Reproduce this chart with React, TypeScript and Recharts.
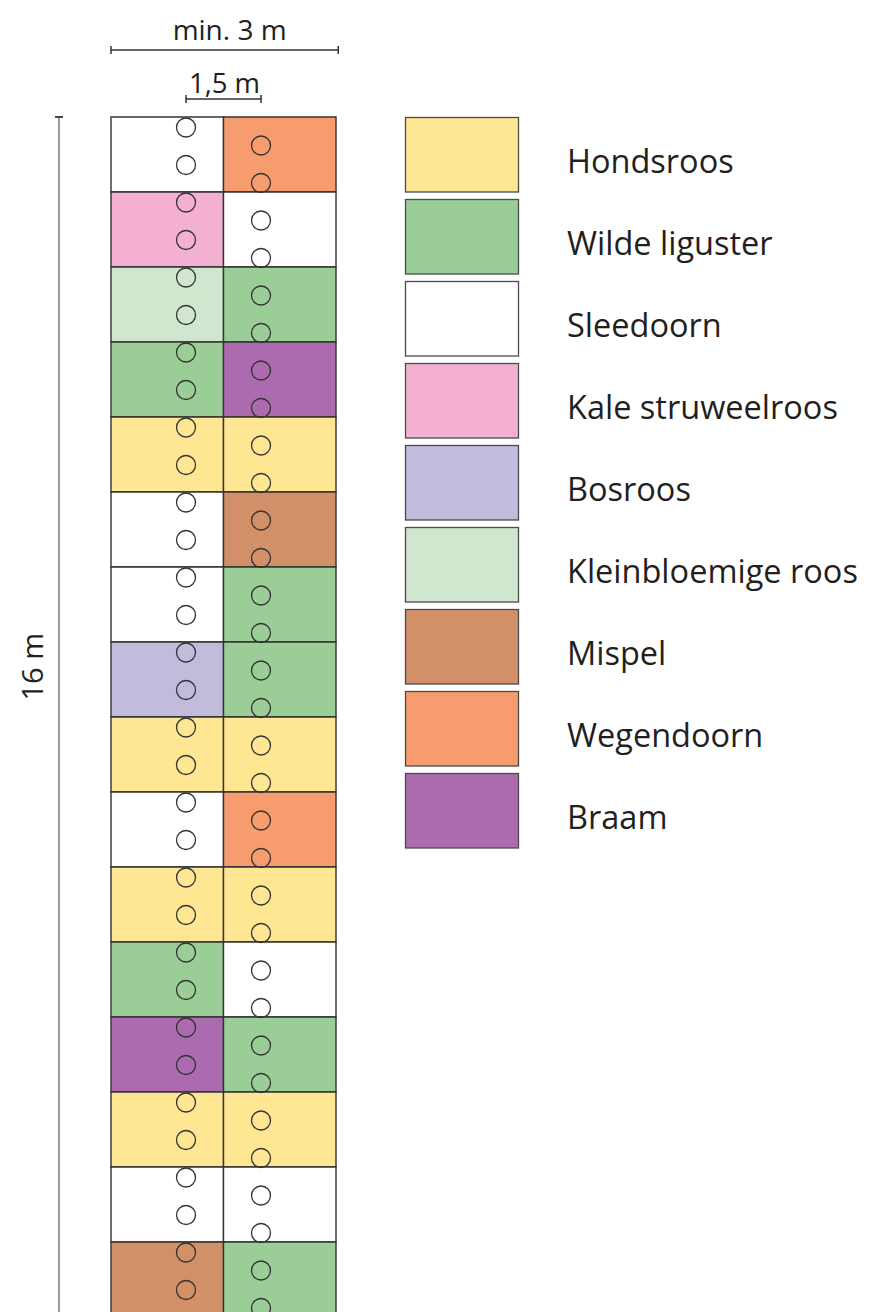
import React from 'react';
import {
  ComposedChart,
  XAxis,
  YAxis,
  Scatter,
  ReferenceArea,
  ReferenceLine,
  ReferenceDot,
  Legend,
} from 'recharts';

// ---------- data ----------
const rowStarts = [0, 1, 2, 3, 4, 5, 6, 7, 8, 9, 10, 11, 12, 13, 14, 15]; // metres along the 16 m hedge

const leftColumn = [
  'Sleedoorn', 'Kale struweelroos', 'Kleinbloemige roos', 'Wilde liguster',
  'Hondsroos', 'Sleedoorn', 'Sleedoorn', 'Bosroos',
  'Hondsroos', 'Sleedoorn', 'Hondsroos', 'Wilde liguster',
  'Braam', 'Hondsroos', 'Sleedoorn', 'Mispel',
];
const rightColumn = [
  'Wegendoorn', 'Sleedoorn', 'Wilde liguster', 'Braam',
  'Hondsroos', 'Mispel', 'Wilde liguster', 'Wilde liguster',
  'Hondsroos', 'Wegendoorn', 'Hondsroos', 'Sleedoorn',
  'Wilde liguster', 'Hondsroos', 'Sleedoorn', 'Wilde liguster',
];

const legendSpecies = [
  'Hondsroos', 'Wilde liguster', 'Sleedoorn', 'Kale struweelroos', 'Bosroos',
  'Kleinbloemige roos', 'Mispel', 'Wegendoorn', 'Braam',
];
const speciesColors: Record<string, string> = {
  Hondsroos: '#FEE692',
  'Wilde liguster': '#9BCD96',
  Sleedoorn: '#FFFFFF',
  'Kale struweelroos': '#F4B0D1',
  Bosroos: '#C2BBDB',
  'Kleinbloemige roos': '#D0E6CE',
  Mispel: '#D29068',
  Wegendoorn: '#F79C6E',
  Braam: '#AB6BAE',
};

// plant positions (metres): left row at 1 m, right row at 2 m from the edge
const leftRowX = 1;
const rightRowX = 2;
const leftPlantY = [
  0.14, 0.64, 1.14, 1.64, 2.14, 2.64, 3.14, 3.64, 4.14, 4.64, 5.14, 5.64, 6.14, 6.64, 7.14, 7.64,
  8.14, 8.64, 9.14, 9.64, 10.14, 10.64, 11.14, 11.64, 12.14, 12.64, 13.14, 13.64, 14.14, 14.64, 15.14, 15.64,
];
const rightPlantY = [
  0.38, 0.88, 1.38, 1.88, 2.38, 2.88, 3.38, 3.88, 4.38, 4.88, 5.38, 5.88, 6.38, 6.88, 7.38, 7.88,
  8.38, 8.88, 9.38, 9.88, 10.38, 10.88, 11.38, 11.88, 12.38, 12.88, 13.38, 13.88, 14.38, 14.88, 15.38, 15.88,
];

const columnWidth = 1.5; // m
const hedgeWidth = 3; // m ("min. 3 m")
const hedgeLength = 16; // m
const dimensionLabels = ['min. 3 m', '1,5 m', '16 m'];

// ---------- layout ----------
const W = 871;
const H = 1312;
const PX_PER_M = 75;
const X0 = -111 / PX_PER_M;
const Y0 = -117 / PX_PER_M;
const xDomain: [number, number] = [X0, X0 + W / PX_PER_M];
const yDomain: [number, number] = [Y0, Y0 + H / PX_PER_M];

const FONT = '"Open Sans", "Noto Sans", sans-serif';
const TEXT = '#231F20';
const EDGE = '#333333';

const leftPlants = leftPlantY.map((y) => ({ x: leftRowX, y }));
const rightPlants = rightPlantY.map((y) => ({ x: rightRowX, y }));

const PlantShape = (props: any) => {
  if (props.cx == null || props.cy == null) return null;
  return <circle cx={props.cx} cy={props.cy} r={9.5} fill="none" stroke={EDGE} strokeWidth={1.3} />;
};

const TopLabel = (text: string, offset: number, size: number, dx: number) => (props: any) => {
  const vb = props.viewBox || {};
  const cx = (vb.x ?? 0) + (vb.width ?? 0) / 2;
  return (
    <text x={cx + dx} y={(vb.y ?? 0) - offset} textAnchor="middle" fontFamily={FONT} fontSize={size} fill={TEXT}>
      {text}
    </text>
  );
};

const SideLabel = (text: string, size: number) => (props: any) => {
  const vb = props.viewBox || {};
  const x = (vb.x ?? 0) + (vb.width ?? 0) / 2;
  const y = (vb.y ?? 0) + (vb.height ?? 0) / 2;
  return (
    <text
      x={x}
      y={y}
      textAnchor="middle"
      dominantBaseline="central"
      transform={`rotate(-90 ${x} ${y})`}
      fontFamily={FONT}
      fontSize={size}
      fill={TEXT}
    >
      {text}
    </text>
  );
};

const LegendContent = () => (
  <svg width={470} height={740} style={{ display: 'block', overflow: 'visible' }}>
    {legendSpecies.map((s, i) => (
      <g key={s}>
        <rect
          x={0.5}
          y={i * 82 + 0.5}
          width={113}
          height={74.5}
          fill={speciesColors[s]}
          stroke="#4a4a4a"
          strokeWidth={1.3}
        />
        <text x={162} y={i * 82 + 55.5} fontFamily={FONT} fontSize={32.5} fill={TEXT}>
          {s}
        </text>
      </g>
    ))}
  </svg>
);

export default function App() {
  const dimY1 = -67 / PX_PER_M; // line under "min. 3 m"
  const dimY2 = -18 / PX_PER_M; // line under "1,5 m"
  const tick = 4 / PX_PER_M;
  const vertX = -52 / PX_PER_M;

  return (
    <div style={{ position: 'absolute', left: 0, top: 0, width: W, height: H, background: '#fff' }}>
      <ComposedChart width={W} height={H} margin={{ top: 0, right: 0, bottom: 0, left: 0 }}>
        <XAxis type="number" dataKey="x" domain={xDomain} hide allowDataOverflow />
        <YAxis type="number" dataKey="y" domain={yDomain} reversed hide allowDataOverflow />

        {rowStarts.map((r, i) => (
          <ReferenceArea
            key={`l${i}`}
            x1={0}
            x2={columnWidth}
            y1={r}
            y2={r + 1}
            fill={speciesColors[leftColumn[i]]}
            fillOpacity={1}
            stroke={EDGE}
            strokeWidth={1.4}
            ifOverflow="visible"
          />
        ))}
        {rowStarts.map((r, i) => (
          <ReferenceArea
            key={`r${i}`}
            x1={columnWidth}
            x2={hedgeWidth}
            y1={r}
            y2={r + 1}
            fill={speciesColors[rightColumn[i]]}
            fillOpacity={1}
            stroke={EDGE}
            strokeWidth={1.4}
            ifOverflow="visible"
          />
        ))}

        {/* min. 3 m dimension */}
        <ReferenceLine
          segment={[{ x: 0, y: dimY1 }, { x: hedgeWidth + 0.03, y: dimY1 }]}
          stroke={EDGE}
          strokeWidth={1.5}
          ifOverflow="visible"
          label={{ content: TopLabel(dimensionLabels[0], 10, 28, 5) }}
        />
        <ReferenceLine segment={[{ x: 0, y: dimY1 - tick }, { x: 0, y: dimY1 + tick }]} stroke={EDGE} strokeWidth={1.5} ifOverflow="visible" />
        <ReferenceLine segment={[{ x: hedgeWidth + 0.03, y: dimY1 - tick }, { x: hedgeWidth + 0.03, y: dimY1 + tick }]} stroke={EDGE} strokeWidth={1.5} ifOverflow="visible" />

        {/* 1,5 m dimension */}
        <ReferenceLine
          segment={[{ x: leftRowX, y: dimY2 }, { x: rightRowX, y: dimY2 }]}
          stroke={EDGE}
          strokeWidth={1.5}
          ifOverflow="visible"
          label={{ content: TopLabel(dimensionLabels[1], 6, 27.5, 1) }}
        />
        <ReferenceLine segment={[{ x: leftRowX, y: dimY2 - tick }, { x: leftRowX, y: dimY2 + tick }]} stroke={EDGE} strokeWidth={1.5} ifOverflow="visible" />
        <ReferenceLine segment={[{ x: rightRowX, y: dimY2 - tick }, { x: rightRowX, y: dimY2 + tick }]} stroke={EDGE} strokeWidth={1.5} ifOverflow="visible" />

        {/* 16 m dimension */}
        <ReferenceLine
          segment={[{ x: vertX, y: 0 }, { x: vertX, y: hedgeLength }]}
          stroke="#7a7a7a"
          strokeWidth={1.5}
          ifOverflow="visible"
        />
        <ReferenceLine
          segment={[{ x: vertX - tick, y: 0 }, { x: vertX + tick, y: 0 }]}
          stroke={EDGE}
          strokeWidth={1.8}
          ifOverflow="visible"
        />
        <ReferenceDot
          x={vertX - 28 / PX_PER_M}
          y={7.33}
          r={0}
          fill="none"
          stroke="none"
          ifOverflow="visible"
          label={{ content: SideLabel(dimensionLabels[2], 29) }}
        />

        <Scatter data={leftPlants} shape={PlantShape} isAnimationActive={false} legendType="none" />
        <Scatter data={rightPlants} shape={PlantShape} isAnimationActive={false} legendType="none" />

        <Legend
          layout="vertical"
          align="center"
          verticalAlign="middle"
          content={LegendContent}
          wrapperStyle={{ position: 'absolute', left: 405, top: 117, width: 470, height: 740 }}
        />
      </ComposedChart>
    </div>
  );
}
